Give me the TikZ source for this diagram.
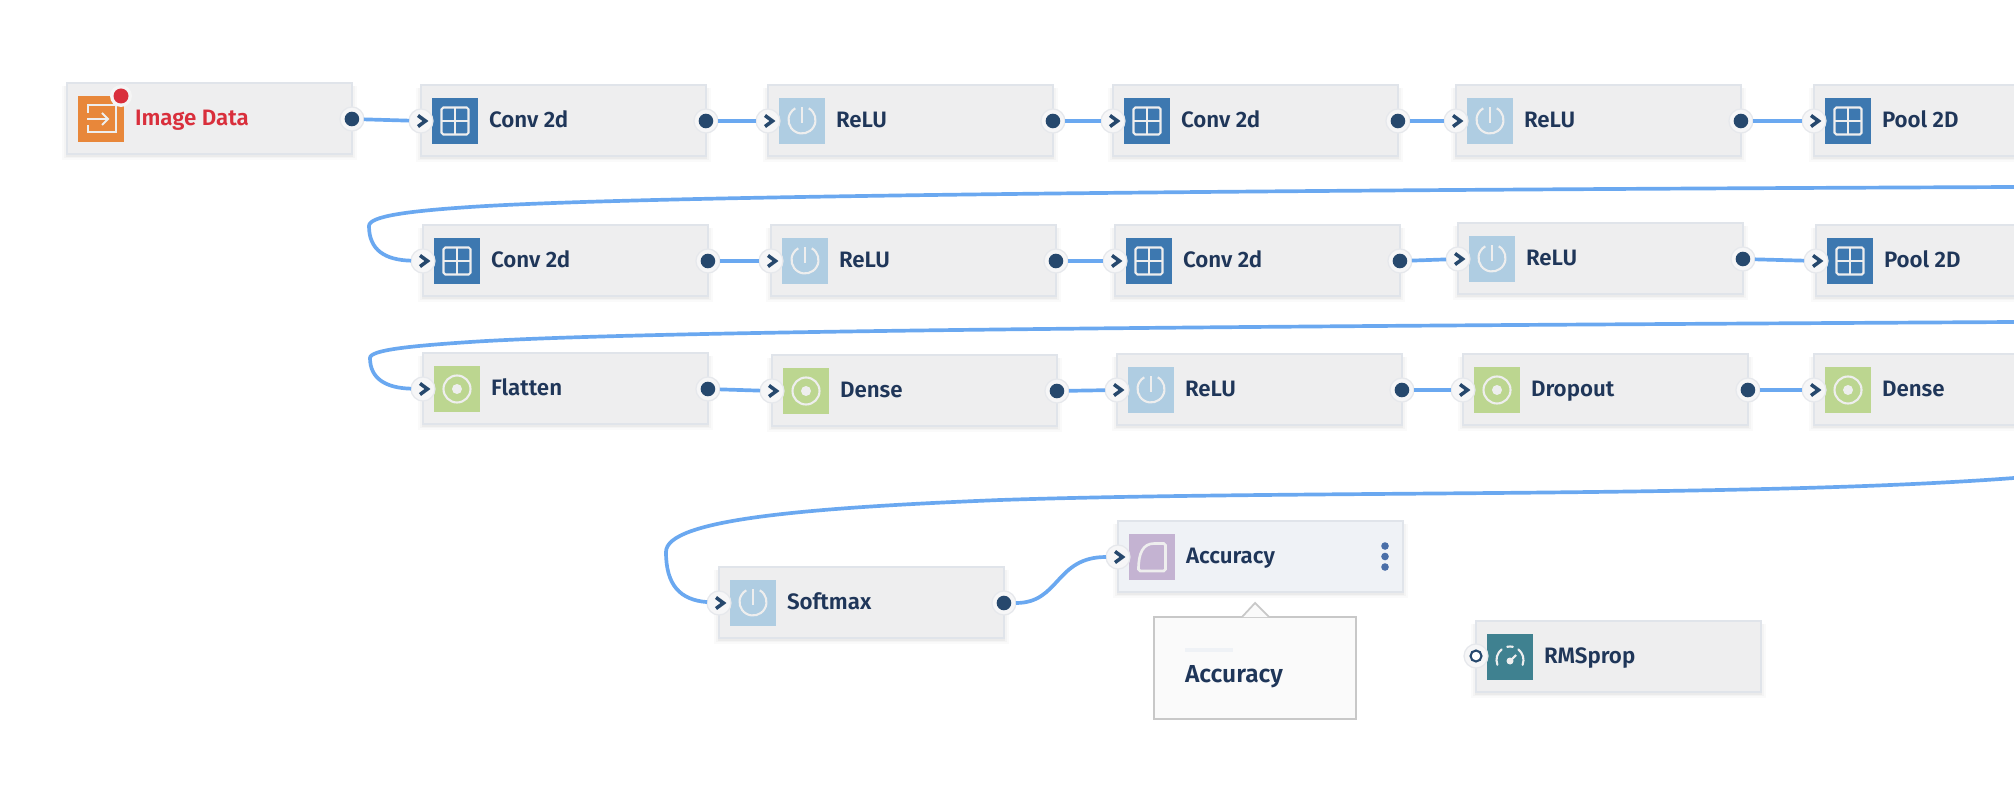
\documentclass[tikz,border=0pt]{standalone}
\usepackage{fontspec}
\setmainfont{Fira Sans SemiBold}
\usetikzlibrary{shadows}

\definecolor{wireblue}{HTML}{6AA8F0}
\definecolor{portnavy}{HTML}{26486D}
\definecolor{textnavy}{HTML}{1F3659}
\definecolor{boxgray}{HTML}{EEEEEF}
\definecolor{boxline}{HTML}{E0E4EA}
\definecolor{haloline}{HTML}{E6E8EC}
\definecolor{iconline}{HTML}{EEEEEE}
\definecolor{gridblue}{HTML}{3D78B0}
\definecolor{powerblue}{HTML}{AFCDE2}
\definecolor{targetgreen}{HTML}{BCD690}
\definecolor{inputorange}{HTML}{E8873A}
\definecolor{curvepurple}{HTML}{C4B3D2}
\definecolor{gaugeteal}{HTML}{3F8190}
\definecolor{alertred}{HTML}{D92F3C}
\definecolor{selectblue}{HTML}{EFF2F6}
\definecolor{dotblue}{HTML}{4A6FA8}
\definecolor{popupline}{HTML}{C8C8C8}
\definecolor{popupfill}{HTML}{FAFAFA}

\tikzset{
  softshadow/.style={drop shadow={shadow xshift=0pt, shadow yshift=-2.5pt, shadow scale=1.035, opacity=0.02, fill=black}, drop shadow={shadow xshift=0pt, shadow yshift=-2pt, shadow scale=1.02, opacity=0.025, fill=black}, drop shadow={shadow xshift=0pt, shadow yshift=-1.5pt, shadow scale=1.008, opacity=0.035, fill=black}},
  blockbox/.style={draw=boxline, fill=boxgray, line width=0.85pt, anchor=north west, outer sep=0pt, minimum width=5.7cm, minimum height=1.42cm, softshadow},
  blocklabel/.style={anchor=base west, inner sep=0pt, outer sep=0pt, text=textnavy, font=\fontsize{12.7}{14}\selectfont},
  halo/.style={circle, draw=haloline, fill=boxgray!50!white, line width=0.7pt, inner sep=0pt, outer sep=0pt, minimum size=0.48cm},
  wire/.style={draw=wireblue, line width=2.1pt},
  iconstroke/.style={draw=iconline, line width=1.2pt},
  gridicon/.pic={
    \fill [gridblue] ( -23, -23 ) rectangle ( 23, 23 );
    \draw [iconstroke, rounded corners=1pt] ( -13.5, -13.5 ) rectangle ( 13.5, 13.5 );
    \draw [iconstroke] ( -13.5, 0 ) -- ( 13.5, 0 );
    \draw [iconstroke] ( 0, -13.5 ) -- ( 0, 13.5 );
  },
  powericon/.pic={
    \fill [powerblue] ( -23, -23 ) rectangle ( 23, 23 );
    \draw [iconstroke] ( 6.75, -12.7 ) arc ( -60 : 240 : 13.5 );
    \draw [iconstroke] ( 0, -14 ) -- ( 0, 2 );
  },
  targeticon/.pic={
    \fill [targetgreen] ( -23, -23 ) rectangle ( 23, 23 );
    \draw [iconstroke] ( 0, 0 ) circle ( 13.5 );
    \fill [iconline] ( 0, 0 ) circle ( 5 );
  },
  inputicon/.pic={
    \fill [inputorange] ( -23, -23 ) rectangle ( 23, 23 );
    \draw [iconstroke] ( -13, -6 ) -- ( -13, -14 ) -- ( 15, -14 ) -- ( 15, 13 ) -- ( -13, 13 ) -- ( -13, 6 );
    \draw [iconstroke] ( -14, 0 ) -- ( 7, 0 );
    \draw [iconstroke] ( 1, -6 ) -- ( 7, 0 ) -- ( 1, 6 );
    \fill [white!96!black] ( 20, -23 ) circle ( 11 );
    \fill [alertred] ( 20, -23 ) circle ( 7.5 );
  },
  curveicon/.pic={
    \fill [curvepurple] ( -23, -23 ) rectangle ( 23, 23 );
    \draw [iconstroke, line width=1.5pt, rounded corners=1pt] ( -13.5, 14 ) .. controls ( -13.5, -4 ) and ( -9, -13.5 ) .. ( 4, -13.5 ) -- ( 13.5, -13.5 ) -- ( 13.5, 14 ) -- cycle;
  },
  gaugeicon/.pic={
    \fill [gaugeteal] ( -23, -23 ) rectangle ( 23, 23 );
    \draw [iconstroke, line cap=round] ( -12.6, 7.8 ) arc ( 159 : 232 : 13.5 );
    \draw [iconstroke, line cap=round] ( -2.8, -10.2 ) arc ( 258 : 282 : 13.5 );
    \draw [iconstroke, line cap=round] ( 8.3, -7.6 ) arc ( 308 : 381 : 13.5 );
    \fill [iconline] ( 0, 4 ) circle ( 3.5 );
    \draw [iconstroke] ( 0, 4 ) -- ( 6, -2 );
  },
}

% name, left, top, icon, label
\newcommand{\block}[6][]{
  \node [blockbox, #1] (#2) at ( #3, #4 ) {};
  \pic at ([shift={( 34, 36 )}]#2.north west) {#5};
  \node [blocklabel] (#2text) at ([shift={( 68, 42.5 )}]#2.north west) {#6};
}
\newcommand{\inport}[1]{
  \node [halo] (#1in) at ([shift={( 0, 36 )}]#1.north west) {};
  \draw [portnavy, line width=2pt] ([shift={( -3, -5.5 )}]#1in.center) -- ++( 7.5, 5.5 ) -- ++( -7.5, 5.5 );
}
\newcommand{\outport}[1]{
  \node [halo] (#1out) at ([shift={( 0, 36 )}]#1.north east) {};
  \fill [portnavy] (#1out.center) circle ( 7.3 );
}

\begin{document}
\begin{tikzpicture}[x=0.02cm, y=-0.02cm]

\useasboundingbox ( 0, 0 ) rectangle ( 2014, 800 );
\clip ( 0, 0 ) rectangle ( 2014, 800 );
\fill [white] ( 0, 0 ) rectangle ( 2014, 800 );

% Row 1
\block{image}{67}{83}{inputicon}{\textcolor{alertred}{Image Data}} \outport{image}
\block{convA}{421}{85}{gridicon}{Conv 2d} \inport{convA} \outport{convA}
\block{reluA}{768}{85}{powericon}{ReLU} \inport{reluA} \outport{reluA}
\block{convB}{1113}{85}{gridicon}{Conv 2d} \inport{convB} \outport{convB}
\block{reluB}{1456}{85}{powericon}{ReLU} \inport{reluB} \outport{reluB}
\block{poolA}{1814}{85}{gridicon}{Pool 2D} \inport{poolA}

% Row 2
\block{convC}{423}{225}{gridicon}{Conv 2d} \inport{convC} \outport{convC}
\block{reluC}{771}{225}{powericon}{ReLU} \inport{reluC} \outport{reluC}
\block{convD}{1115}{225}{gridicon}{Conv 2d} \inport{convD} \outport{convD}
\block{reluD}{1458}{223}{powericon}{ReLU} \inport{reluD} \outport{reluD}
\block{poolB}{1816}{225}{gridicon}{Pool 2D} \inport{poolB}

% Row 3
\block{flatten}{423}{353}{targeticon}{Flatten} \inport{flatten} \outport{flatten}
\block{denseA}{772}{355}{targeticon}{Dense} \inport{denseA} \outport{denseA}
\block{reluE}{1117}{354}{powericon}{ReLU} \inport{reluE} \outport{reluE}
\block{dropout}{1463}{354}{targeticon}{Dropout} \inport{dropout} \outport{dropout}
\block{denseB}{1814}{354}{targeticon}{Dense} \inport{denseB}

% Softmax, accuracy, optimizer
\block{softmax}{719}{567}{powericon}{Softmax} \inport{softmax} \outport{softmax}
\block[fill=selectblue]{accuracy}{1118}{521}{curveicon}{Accuracy} \inport{accuracy}
\block{rmsprop}{1476}{621}{gaugeicon}{RMSprop}
\node [halo] (rmspropin) at ([shift={( 0, 35 )}]rmsprop.north west) {};
\draw [portnavy, fill=white, line width=1.2pt] (rmspropin.center) circle ( 5.5 );

% Accuracy menu dots
\fill [dotblue] ( 1385, 546 ) circle ( 3.8 );
\fill [dotblue] ( 1385, 556.5 ) circle ( 3.8 );
\fill [dotblue] ( 1385, 567 ) circle ( 3.8 );

% Popup
\node [draw=popupline, fill=popupfill, line width=1pt, minimum width=4.04cm, minimum height=2.04cm, outer sep=0pt] (popup) at ( 1255, 668 ) {};
\filldraw [draw=popupline, fill=popupfill, line width=1pt] ( 1242, 617 ) -- ( 1255, 603 ) -- ( 1269, 617 );
\fill [selectblue] ( 1185, 648 ) rectangle ( 1233, 652 );
\node [blocklabel, font=\fontsize{14}{16}\selectfont] (popuptext) at ( 1185, 682 ) {Accuracy};

% Straight wires
\draw [wire] (imageout) -- (convAin);
\draw [wire] (convAout) -- (reluAin);
\draw [wire] (reluAout) -- (convBin);
\draw [wire] (convBout) -- (reluBin);
\draw [wire] (reluBout) -- (poolAin);
\draw [wire] (convCout) -- (reluCin);
\draw [wire] (reluCout) -- (convDin);
\draw [wire] (convDout) -- (reluDin);
\draw [wire] (reluDout) -- (poolBin);
\draw [wire] (flattenout) -- (denseAin);
\draw [wire] (denseAout) -- (reluEin);
\draw [wire] (reluEout) -- (dropoutin);
\draw [wire] (dropoutout) -- (denseBin);

% Long wires back from the right edge
\coordinate (poolAend) at ( 2014, 187 );
\coordinate (poolBend) at ( 2014, 322 );
\coordinate (denseBend) at ( 2014, 478 );
\draw [wire] (poolAend) .. controls ( 1300, 190 ) and ( 650, 195 ) .. ( 470, 207 ) .. controls ( 410, 211 ) and ( 369, 216 ) .. ( 369, 226 ) .. controls ( 369, 250 ) and ( 385, 260 ) .. (convCin);
\draw [wire] (poolBend) .. controls ( 1300, 326 ) and ( 650, 330 ) .. ( 470, 342 ) .. controls ( 410, 346 ) and ( 370, 350 ) .. ( 370, 358 ) .. controls ( 370, 378 ) and ( 385, 388 ) .. (flattenin);
\draw [wire] (denseBend) .. controls ( 1750, 498 ) and ( 1300, 490 ) .. ( 1000, 500 ) .. controls ( 800, 508 ) and ( 666, 520 ) .. ( 666, 552 ) .. controls ( 666, 585 ) and ( 680, 600 ) .. (softmaxin);

% Softmax to accuracy
\draw [wire] (softmaxout) .. controls ( 1060, 603 ) and ( 1055, 557 ) .. (accuracyin);

\end{tikzpicture}
\end{document}
